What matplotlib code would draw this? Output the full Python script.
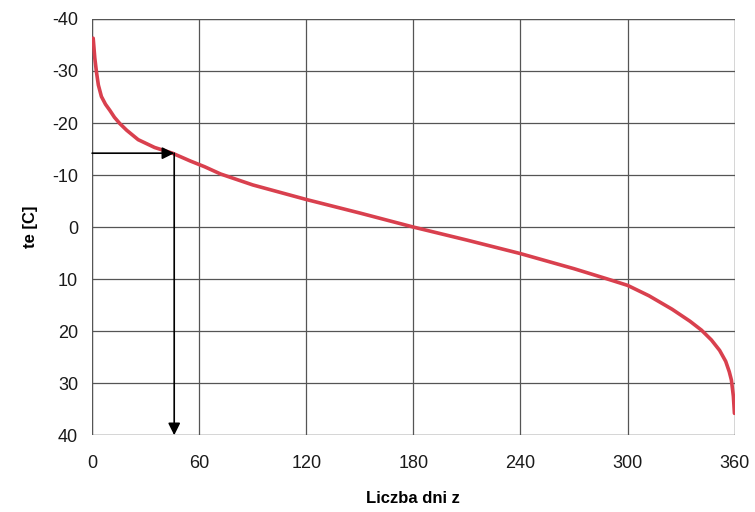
import matplotlib
matplotlib.use("Agg")
import matplotlib.pyplot as plt

plt.rcParams['font.family'] = ['Liberation Sans', 'DejaVu Sans']
plt.rcParams['axes.unicode_minus'] = False

# temperature duration curve
days = [0.6, 1.5, 2.4, 3.5, 5.2, 7.5, 10, 12.5, 15.5, 19.4, 25.8, 35, 45, 55, 63, 72, 90,
        105, 120, 150, 180, 210, 240, 270, 288, 300, 312, 325, 335, 341.4, 347,
        351.6, 355, 357, 358.2, 359.3, 359.9]
temps = [-36.3, -32.5, -29.9, -27.3, -25.1, -23.6, -22.4, -21.1, -19.9, -18.6, -16.8, -15.3, -14.2, -12.7, -11.6, -10.2, -8.1,
         -6.7, -5.3, -2.7, 0, 2.5, 5.1, 8.0, 9.9, 11.2, 13.2, 15.8, 18.1, 19.8, 21.7,
         23.7, 25.8, 27.8, 29.4, 32.5, 35.8]

x_ticks = [0, 60, 120, 180, 240, 300, 360]
y_ticks = [-40, -30, -20, -10, 0, 10, 20, 30, 40]

# reading arrows
read_day = 46
read_temp = -14.2

fig = plt.figure(figsize=(7.55, 5.12), dpi=100)
ax = fig.add_axes([0.122, 0.150, 0.851, 0.813])

ax.plot(days, temps, color='#d9404e', lw=2.6, solid_capstyle='round',
        solid_joinstyle='round', zorder=3)

# horizontal arrow from axis to curve, then down to the x axis
ax.annotate('', xy=(read_day, read_temp), xytext=(0, read_temp),
            arrowprops=dict(arrowstyle='-|>', color='black', lw=1.2,
                            mutation_scale=18, shrinkA=0, shrinkB=0), zorder=4)
ax.annotate('', xy=(read_day, y_ticks[-1]), xytext=(read_day, read_temp),
            arrowprops=dict(arrowstyle='-|>', color='black', lw=1.2,
                            mutation_scale=18, shrinkA=0, shrinkB=0), zorder=4)

ax.set_xlim(x_ticks[0], x_ticks[-1])
ax.set_ylim(y_ticks[-1], y_ticks[0])
ax.set_xticks(x_ticks)
ax.set_yticks(y_ticks)
ax.tick_params(length=0, labelsize=13, pad=10, colors='#1a1a1a')
ax.tick_params(axis='x', pad=14)

ax.grid(True, color='#555555', lw=0.9)
for s in ax.spines.values():
    s.set_visible(False)
ax.set_axisbelow(True)
# edge grid lines (the spines are hidden)
for xv in (x_ticks[0], x_ticks[-1]):
    ax.axvline(xv, color='#555555', lw=0.9, zorder=1)
for yv in (y_ticks[0], y_ticks[-1]):
    ax.axhline(yv, color='#555555', lw=0.9, zorder=1)

ax.set_xlabel('Liczba dni z', fontsize=12, fontweight='bold', labelpad=14)
ax.set_ylabel('te [C]', fontsize=12, fontweight='bold', labelpad=10)

fig.savefig('out.png', dpi=100)
